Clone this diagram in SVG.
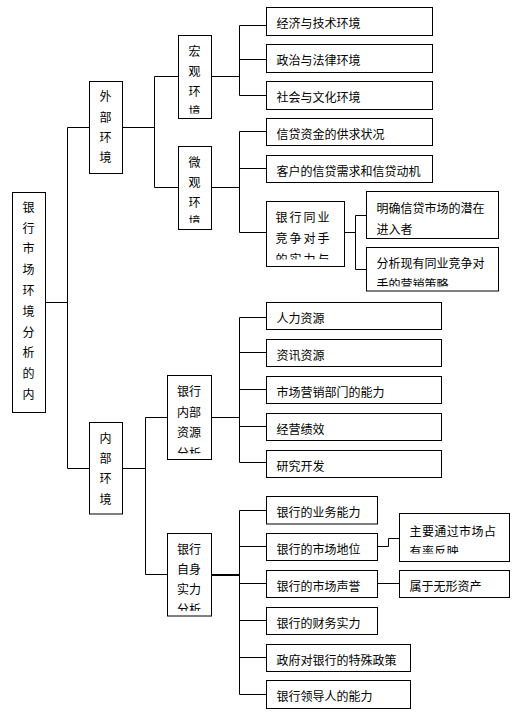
<svg xmlns="http://www.w3.org/2000/svg" width="513" height="714" viewBox="0 0 513 714">
<style>
rect.b{fill:#fff;stroke:#000;stroke-width:1}
text{font-family:"Noto Sans CJK SC","Noto Sans CJK JP",sans-serif;font-size:12px;fill:#000}
.c path{fill:none;stroke:#000;stroke-width:1}
</style>
<defs>
<clipPath id="cp1"><rect x="178" y="35" width="34" height="78.5"/></clipPath>
<clipPath id="cp2"><rect x="178" y="146" width="34" height="77"/></clipPath>
<clipPath id="cp3"><rect x="167" y="375" width="45" height="78.5"/></clipPath>
<clipPath id="cp4"><rect x="167" y="533" width="45" height="78"/></clipPath>
<clipPath id="cp5"><rect x="266" y="201" width="79" height="58.5"/></clipPath>
<clipPath id="cp6"><rect x="366" y="247" width="133" height="39.5"/></clipPath>
<clipPath id="cp7"><rect x="399" y="513" width="111" height="40.5"/></clipPath>
</defs>
<rect width="513" height="714" fill="#fff"/>
<g class="c" id="connectors">
<path d="M45.5 302.5H67.5M67.5 127.5V468.5M67.5 127.5H89.5M67.5 468.5H89.5"/>
<path d="M122.5 127.5H154.5M154.5 76.5V187.5M154.5 76.5H178.5M154.5 187.5H178.5"/>
<path d="M211.5 76.5H239.5M239.5 25.5V95.5M239.5 25.5H266.5M239.5 59.5H266.5M239.5 95.5H266.5"/>
<path d="M211.5 187.5H239.5M239.5 131.5V232.5M239.5 131.5H266.5M239.5 168.5H266.5M239.5 232.5H266.5"/>
<path d="M344.5 232.5H355.5M355.5 215.5V269.5M355.5 215.5H366.5M355.5 269.5H366.5"/>
<path d="M122.5 468.5H145.5M145.5 417.5V574.5M145.5 417.5H167.5M145.5 574.5H167.5"/>
<path d="M211.5 417.5H239.5M239.5 317.5V462.5M239.5 317.5H266.5M239.5 352.5H266.5M239.5 389.5H266.5M239.5 426.5H266.5M239.5 462.5H266.5"/>
<path d="M211 575H239.5" style="stroke-width:2"/>
<path d="M239.5 510.5V694.5M239.5 510.5H266.5M239.5 546.5H266.5M239.5 583.5H266.5M239.5 620.5H266.5M239.5 657.5H266.5M239.5 694.5H266.5"/>
<path d="M377.5 546.5H388.5V538.5H399.5M377.5 583.5H399.5"/>
</g>
<g id="root"><rect class="b" x="12.5" y="192.5" width="33" height="220"/>
<text x="22.5" y="211.8">银</text><text x="22.5" y="232.6">行</text><text x="22.5" y="253.4">市</text><text x="22.5" y="274.2">场</text><text x="22.5" y="295">环</text><text x="22.5" y="315.8">境</text><text x="22.5" y="336.6">分</text><text x="22.5" y="357.4">析</text><text x="22.5" y="378.2">的</text><text x="22.5" y="399">内</text></g>
<g id="external"><rect class="b" x="89.5" y="81.5" width="33" height="92"/>
<text x="99.5" y="101.2">外</text><text x="99.5" y="121.5">部</text><text x="99.5" y="141.8">环</text><text x="99.5" y="162.1">境</text></g>
<g id="macro"><rect class="b" x="178.5" y="35.5" width="33" height="83"/>
<g clip-path="url(#cp1)"><text x="188.5" y="56.2">宏</text><text x="188.5" y="76.2">观</text><text x="188.5" y="96.2">环</text><text x="188.5" y="116.2">境</text></g></g>
<g id="micro"><rect class="b" x="178.5" y="146.5" width="33" height="83"/>
<g clip-path="url(#cp2)"><text x="188.5" y="167.2">微</text><text x="188.5" y="187">观</text><text x="188.5" y="206.5">环</text><text x="188.5" y="226.2">境</text></g></g>
<g id="m1"><rect class="b" x="266.5" y="7.5" width="166" height="28"/><text x="276.5" y="28">经济与技术环境</text></g>
<g id="m2"><rect class="b" x="266.5" y="44.5" width="166" height="28"/><text x="276.5" y="65">政治与法律环境</text></g>
<g id="m3"><rect class="b" x="266.5" y="81.5" width="166" height="28"/><text x="276.5" y="102">社会与文化环境</text></g>
<g id="u1"><rect class="b" x="266.5" y="118.5" width="166" height="27"/><text x="276.5" y="139">信贷资金的供求状况</text></g>
<g id="u2"><rect class="b" x="266.5" y="155.5" width="166" height="27"/><text x="276.5" y="176">客户的信贷需求和信贷动机</text></g>
<g id="u3"><rect class="b" x="266.5" y="201.5" width="78" height="65"/>
<g clip-path="url(#cp5)" style="letter-spacing:2px"><text x="275.5" y="221.5">银行同业</text><text x="275.5" y="242.5">竞争对手</text><text x="275.5" y="263.5">的实力与</text></g></g>
<g id="u3a"><rect class="b" x="366.5" y="191.5" width="132" height="47"/><text x="376.5" y="213">明确信贷市场的潜在</text><text x="376.5" y="234">进入者</text></g>
<g id="u3b"><rect class="b" x="366.5" y="247.5" width="132" height="43.5"/>
<g clip-path="url(#cp6)"><text x="376.5" y="268">分析现有同业竞争对</text><text x="376.5" y="289">手的营销策略</text></g></g>
<g id="internal"><rect class="b" x="89.5" y="422.5" width="33" height="91.5"/>
<text x="99.5" y="442.8">内</text><text x="99.5" y="463.1">部</text><text x="99.5" y="483.4">环</text><text x="99.5" y="503.7">境</text></g>
<g id="resource"><rect class="b" x="167.5" y="375.5" width="44" height="84"/>
<g clip-path="url(#cp3)"><text x="177" y="396.2">银行</text><text x="177" y="416.7">内部</text><text x="177" y="437.2">资源</text><text x="177" y="457.7">分析</text></g></g>
<g id="r1"><rect class="b" x="266.5" y="302.5" width="175" height="27"/><text x="276.5" y="323">人力资源</text></g>
<g id="r2"><rect class="b" x="266.5" y="339.5" width="175" height="27"/><text x="276.5" y="360">资讯资源</text></g>
<g id="r3"><rect class="b" x="266.5" y="376.5" width="175" height="27"/><text x="276.5" y="397">市场营销部门的能力</text></g>
<g id="r4"><rect class="b" x="266.5" y="413.5" width="175" height="27"/><text x="276.5" y="434">经营绩效</text></g>
<g id="r5"><rect class="b" x="266.5" y="450.5" width="175" height="27"/><text x="276.5" y="471">研究开发</text></g>
<g id="strength"><rect class="b" x="167.5" y="533.5" width="44" height="82.5"/>
<g clip-path="url(#cp4)"><text x="177" y="553.8">银行</text><text x="177" y="573.8">自身</text><text x="177" y="593.8">实力</text><text x="177" y="613.8">分析</text></g></g>
<g id="s1"><rect class="b" x="266.5" y="496.5" width="111" height="27.5"/><text x="276.5" y="517">银行的业务能力</text></g>
<g id="s2"><rect class="b" x="266.5" y="533.5" width="111" height="27"/><text x="276.5" y="554">银行的市场地位</text></g>
<g id="s3"><rect class="b" x="266.5" y="570.5" width="111" height="27"/><text x="276.5" y="591">银行的市场声誉</text></g>
<g id="s4"><rect class="b" x="266.5" y="607.5" width="111" height="27"/><text x="276.5" y="628">银行的财务实力</text></g>
<g id="s5"><rect class="b" x="266.5" y="644.5" width="144" height="27"/><text x="276.5" y="665">政府对银行的特殊政策</text></g>
<g id="s6"><rect class="b" x="266.5" y="680.5" width="144" height="28"/><text x="276.5" y="701">银行领导人的能力</text></g>
<g id="s2a"><rect class="b" x="399.5" y="513.5" width="110" height="48"/>
<g clip-path="url(#cp7)" style="letter-spacing:0.4px"><text x="409.5" y="535.7">主要通过市场占</text><text x="409.5" y="555.5">有率反映</text></g></g>
<g id="s3a"><rect class="b" x="399.5" y="570.5" width="110" height="27"/><text x="409.5" y="591">属于无形资产</text></g>
</svg>
